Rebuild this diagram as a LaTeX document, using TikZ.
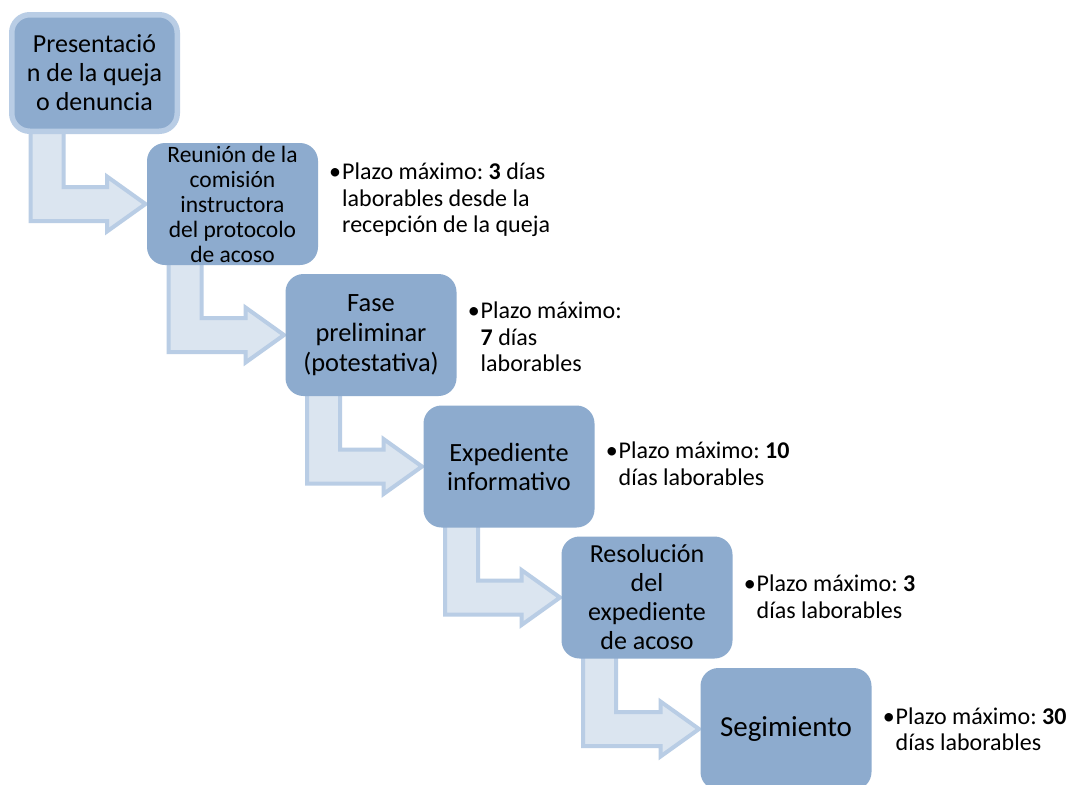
\documentclass[tikz,border=0pt]{standalone}
\usepackage{fontspec}
\setmainfont{Carlito}
\frenchspacing
\usetikzlibrary{calc}
\pgfdeclarelayer{paper}
\pgfdeclarelayer{background}
\pgfsetlayers{paper,background,main}
\definecolor{boxfill}{RGB}{141,171,206}
\definecolor{boxedge}{RGB}{185,205,229}
\definecolor{arrfill}{RGB}{219,229,240}
\definecolor{arredge}{RGB}{185,205,229}
\tikzset{
 stepbox/.style={rounded corners=18pt, fill=boxfill, minimum width=171pt, minimum height=122pt, inner sep=0pt, outer sep=0pt, align=center, text=black},
 firstbox/.style={stepbox, draw=boxedge, line width=5.5pt, minimum width=165.5pt, minimum height=116.5pt, outer sep=2.75pt},
 note/.style={anchor=west, align=left, inner sep=0pt, font=\fontsize{24}{26.5}\selectfont, xshift=24pt},
 bentarrow/.style={fill=arrfill, draw=arredge, line width=4pt, line join=miter}
}
\newcommand\stepArrow[2]{%
 \path[bentarrow] let \p1=(#1.south west), \p2=(#2.west) in
 (\x1+21.5,\y1+3) -- (\x1+21.5,\y2-17) -- (\x2-40,\y2-17) -- (\x2-40,\y2-27.5) -- (\x2-1.5,\y2) -- (\x2-40,\y2+27.5) -- (\x2-40,\y2+17) -- (\x1+54.5,\y2+17) -- (\x1+54.5,\y1+3) -- cycle;}
\newcommand\bul{\llap{•\hspace{1pt}}}
\begin{document}
\begin{tikzpicture}[x=1pt,y=-1pt]
\clip (0,0) rectangle (1072,785);
\begin{pgfonlayer}{paper}
\fill[white] (0,0) rectangle (1072,785);
\end{pgfonlayer}
\node[firstbox, font=\fontsize{26}{29}\selectfont] (b1) at (94.5,73) {Presentació\\n de la queja\\o denuncia};
\node[stepbox, font=\fontsize{23.5}{25}\selectfont] (b2) at (232.5,204) {Reunión de la\\comisión\\instructora\\del protocolo\\de acoso};
\node[stepbox, font=\fontsize{26.4}{30}\selectfont] (b3) at (371,335) {Fase\\preliminar\\(potestativa)};
\node[stepbox, font=\fontsize{26.3}{29}\selectfont] (b4) at (509,466.5) {Expediente\\informativo};
\node[stepbox, font=\fontsize{26}{29}\selectfont] (b5) at (647,597.5) {Resolución\\del\\expediente\\de acoso};
\node[stepbox, font=\fontsize{29}{34}\selectfont] (b6) at (786,729) {Segimiento};
\begin{pgfonlayer}{background}
\stepArrow{b1}{b2}
\stepArrow{b2}{b3}
\stepArrow{b3}{b4}
\stepArrow{b4}{b5}
\stepArrow{b5}{b6}
\end{pgfonlayer}
\node[note, yshift=4pt] (n2) at (b2.east) {\bul Plazo máximo: \textbf{3} días\\laborables desde la\\recepción de la queja};
\node[note, yshift=-2pt] (n3) at (b3.east) {\bul Plazo máximo:\\\textbf{7} días\\laborables};
\node[note, yshift=3pt] (n4) at (b4.east) {\bul Plazo máximo: \textbf{10}\\días laborables};
\node[note, yshift=1pt] (n5) at (b5.east) {\bul Plazo máximo: \textbf{3}\\días laborables};
\node[note] (n6) at (b6.east) {\bul Plazo máximo: \textbf{30}\\días laborables};
\end{tikzpicture}
\end{document}
